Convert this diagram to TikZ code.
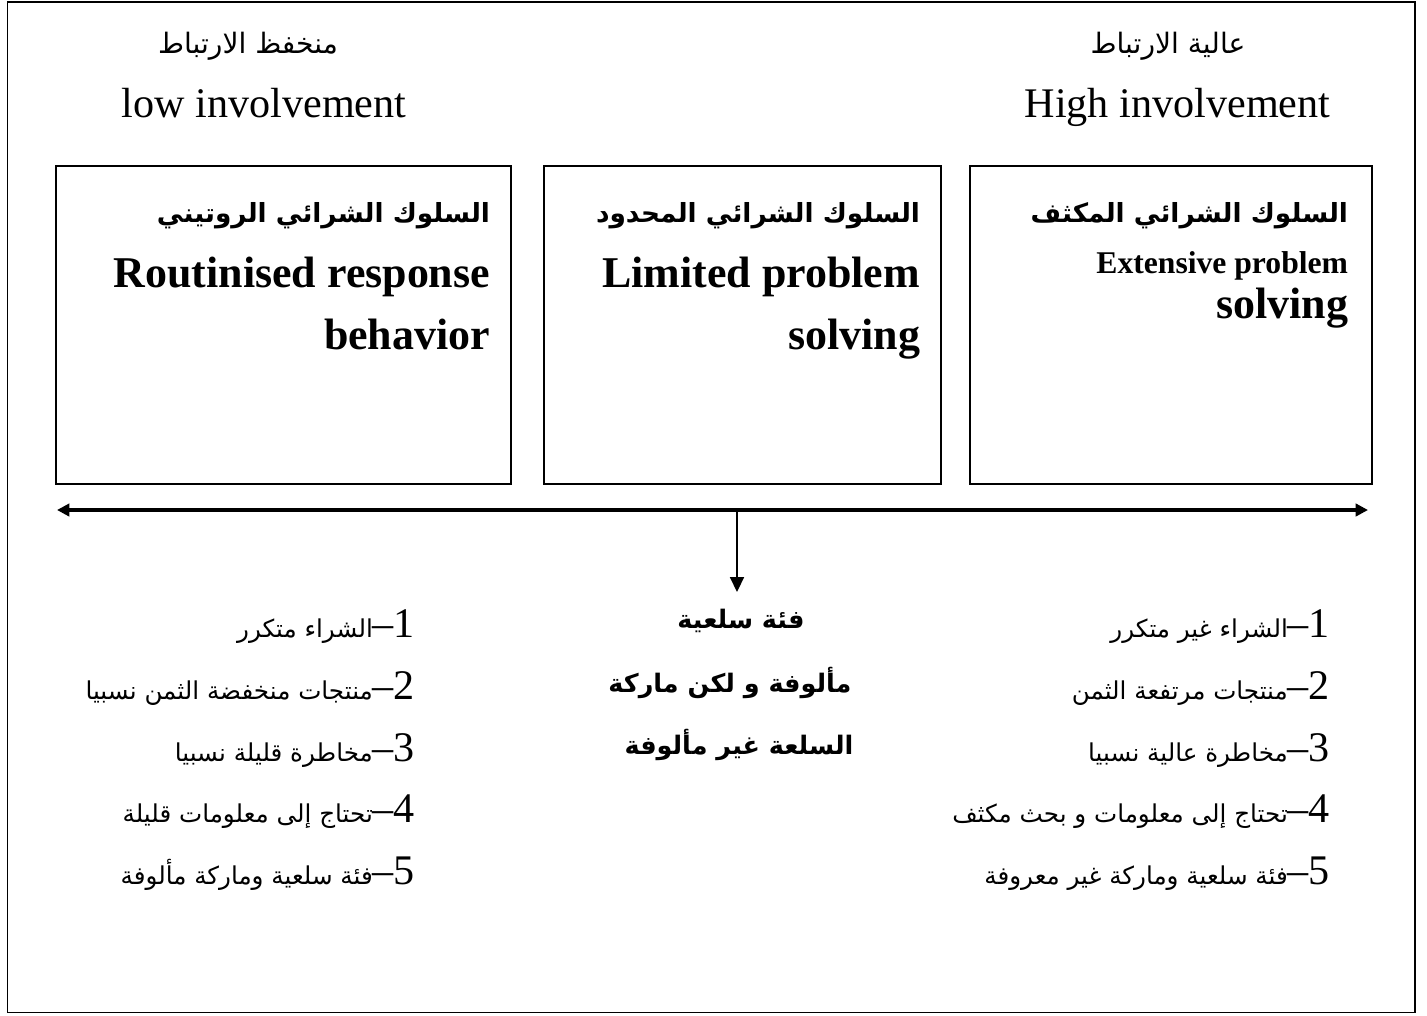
\documentclass[tikz,border=0pt]{standalone}
\usepackage{fontspec}
\setmainfont{Liberation Serif}
\newfontfamily\arabicfont[Script=Arabic]{DejaVu Sans}
\TeXXeTstate=1
\usetikzlibrary{arrows.meta}
\tikzset{
  frame/.style={draw, line width=1pt},
  panel/.style={draw, line width=0.8pt, minimum width=#1*0.02cm, minimum height=318*0.02cm, inner sep=0pt},
  txt/.style={inner sep=0pt, outer sep=0pt},
  hdar/.style={txt, font=\fontsize{16}{19}\selectfont\arabicfont},
  hden/.style={txt, font=\fontsize{24}{28}\selectfont},
  ttlar/.style={txt, anchor=base east, font=\fontsize{15}{19}\selectfont\arabicfont\bfseries},
  ttlen/.style={txt, anchor=base east, font=\fontsize{25}{30}\selectfont\bfseries},
  listitem/.style={txt, anchor=base east, font=\fontsize{14}{18}\selectfont\arabicfont},
  midtxt/.style={txt, anchor=base, font=\fontsize{14.5}{18}\selectfont\arabicfont\bfseries}
}
% item number with its dash, set in the roman face
\newcommand\itmnum[1]{{\rmfamily\fontsize{24}{28}\selectfont--#1}}
\begin{document}
\begin{tikzpicture}[x=0.02cm, y=-0.02cm]
  \useasboundingbox (0,0) rectangle (1427,1015);
  % outer frame
  \draw[frame] (7.5,2) rectangle (1415,1012.5);

  % involvement scale headings
  \node[hdar, anchor=base] (lowar) at (248,53) {\beginR منخفظ الارتباط\endR};
  \node[hden, anchor=base] (lowen) at (264,117) {low involvement};
  \node[hdar, anchor=base] (highar) at (1168,53) {\beginR عالية الارتباط\endR};
  \node[hden, anchor=base] (highen) at (1177.5,117) {High involvement};

  % three behaviour panels
  \node[panel=455] (b1) at (283.5,325) {};
  \node[panel=397] (b2) at (742.5,325) {};
  \node[panel=402] (b3) at (1171,325) {};

  \node[ttlar] (b1a) at (490,222) {\beginR السلوك الشرائي الروتيني\endR};
  \node[ttlen] (b1b) at (490,287) {Routinised response};
  \node[ttlen] (b1c) at (490,349) {behavior};

  \node[ttlar] (b2a) at (920,222) {\beginR السلوك الشرائي المحدود\endR};
  \node[ttlen] (b2b) at (920,287) {Limited problem};
  \node[ttlen] (b2c) at (920,349) {solving};

  \node[ttlar] (b3a) at (1348,222) {\beginR السلوك الشرائي المكثف\endR};
  \node[ttlen, font=\fontsize{18}{22}\selectfont\bfseries] (b3b) at (1348,273) {Extensive problem};
  \node[ttlen] (b3c) at (1348,318) {solving};

  % continuum
  \coordinate (cl) at (57,510);
  \coordinate (cr) at (1368,510);
  \coordinate (cm) at (737,510);
  \coordinate (cd) at (737,592);
  \draw[line width=2pt, {Triangle[length=7pt,width=7pt]}-{Triangle[length=7pt,width=7pt]}] (cl) -- (cr);
  \draw[line width=0.9pt, -{Triangle[length=8.5pt,width=8pt]}] (cm) -- (cd);

  % middle characteristics
  \node[midtxt] (m1) at (741,628) {\beginR فئة سلعية\endR};
  \node[midtxt] (m2) at (730,692) {\beginR مألوفة و لكن ماركة\endR};
  \node[midtxt] (m3) at (739,754) {\beginR السلعة غير مألوفة\endR};

  % low involvement characteristics
  \node[listitem] (l1) at (415,637) {\beginR الشراء متكرر\endR\itmnum{1}};
  \node[listitem] (l2) at (415,699) {\beginR منتجات منخفضة الثمن نسبيا\endR\itmnum{2}};
  \node[listitem] (l3) at (415,761) {\beginR مخاطرة قليلة نسبيا\endR\itmnum{3}};
  \node[listitem] (l4) at (415,822) {\beginR تحتاج إلى معلومات قليلة\endR\itmnum{4}};
  \node[listitem] (l5) at (415,884) {\beginR فئة سلعية وماركة مألوفة\endR\itmnum{5}};

  % high involvement characteristics
  \node[listitem] (h1) at (1330,637) {\beginR الشراء غير متكرر\endR\itmnum{1}};
  \node[listitem] (h2) at (1330,699) {\beginR منتجات مرتفعة الثمن\endR\itmnum{2}};
  \node[listitem] (h3) at (1330,761) {\beginR مخاطرة عالية نسبيا\endR\itmnum{3}};
  \node[listitem] (h4) at (1330,822) {\beginR تحتاج إلى معلومات و بحث مكثف\endR\itmnum{4}};
  \node[listitem] (h5) at (1330,884) {\beginR فئة سلعية وماركة غير معروفة\endR\itmnum{5}};
\end{tikzpicture}
\end{document}
